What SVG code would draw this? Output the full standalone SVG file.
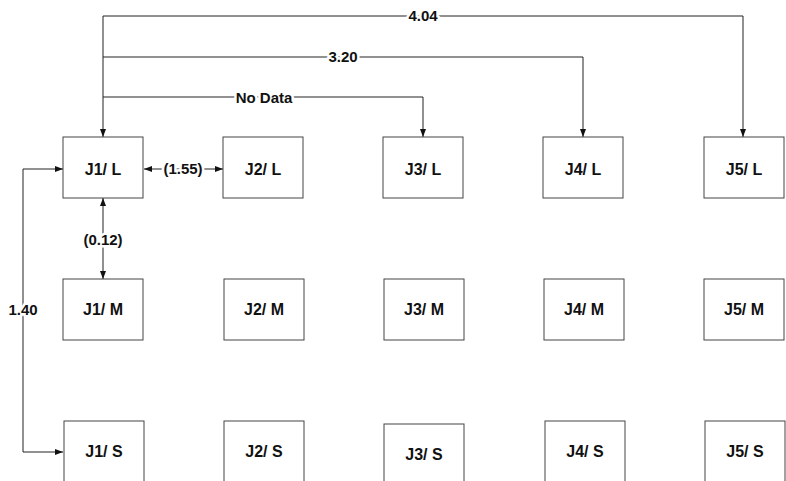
<svg xmlns="http://www.w3.org/2000/svg" width="786" height="481" viewBox="0 0 786 481">
<style>
.box{fill:#fff;stroke:#444;stroke-width:1}
.nt{font-family:"Liberation Sans",Arial,sans-serif;font-weight:bold;font-size:16px;fill:#111;text-anchor:middle}
.ln{fill:none;stroke:#222;stroke-width:1}
.lb{font-family:"Liberation Sans",Arial,sans-serif;font-weight:bold;font-size:15px;fill:#111;text-anchor:middle;stroke:#fff;stroke-width:5;paint-order:stroke;stroke-linejoin:round}
</style>
<defs>
<marker id="ah" viewBox="0 0 8 6" refX="8" refY="3" markerWidth="8" markerHeight="6" markerUnits="userSpaceOnUse" orient="auto-start-reverse">
<path d="M0,0 L8,3 L0,6 z" fill="#111"/>
</marker>
</defs>
<rect width="786" height="481" fill="#fff"/>
<g id="connectors">
<path class="ln" d="M103,137 V16 H743 V137" marker-start="url(#ah)" marker-end="url(#ah)"/>
<path class="ln" d="M103,57 H583 V137" marker-end="url(#ah)"/>
<path class="ln" d="M103,97 H423 V137" marker-end="url(#ah)"/>
<path class="ln" d="M144,169 H223" marker-start="url(#ah)" marker-end="url(#ah)"/>
<path class="ln" d="M103,198 V279" marker-start="url(#ah)" marker-end="url(#ah)"/>
<path class="ln" d="M63,169 H23 V452 H63" marker-start="url(#ah)" marker-end="url(#ah)"/>
<text class="lb" x="423" y="21">4.04</text>
<text class="lb" x="343" y="62">3.20</text>
<text class="lb" x="264" y="103">No Data</text>
<text class="lb" x="183" y="174">(1.55)</text>
<text class="lb" x="103" y="245">(0.12)</text>
<text class="lb" x="23" y="315">1.40</text>
</g>
<g id="J1L"><rect class="box" x="63" y="137" width="80" height="61"/><text class="nt" x="103" y="175">J1/ L</text></g>
<g id="J2L"><rect class="box" x="223" y="137" width="80" height="61"/><text class="nt" x="263" y="175">J2/ L</text></g>
<g id="J3L"><rect class="box" x="383" y="137" width="80" height="61"/><text class="nt" x="423" y="175">J3/ L</text></g>
<g id="J4L"><rect class="box" x="543" y="137" width="80" height="61"/><text class="nt" x="583" y="175">J4/ L</text></g>
<g id="J5L"><rect class="box" x="704" y="137" width="80" height="61"/><text class="nt" x="744" y="175">J5/ L</text></g>
<g id="J1M"><rect class="box" x="63" y="279" width="80" height="61"/><text class="nt" x="103" y="315">J1/ M</text></g>
<g id="J2M"><rect class="box" x="224" y="279" width="80" height="61"/><text class="nt" x="264" y="315">J2/ M</text></g>
<g id="J3M"><rect class="box" x="384" y="279" width="80" height="61"/><text class="nt" x="424" y="315">J3/ M</text></g>
<g id="J4M"><rect class="box" x="544" y="279" width="80" height="61"/><text class="nt" x="584" y="315">J4/ M</text></g>
<g id="J5M"><rect class="box" x="704" y="279" width="80" height="61"/><text class="nt" x="744" y="315">J5/ M</text></g>
<g id="J1S"><rect class="box" x="64" y="421" width="80" height="70"/><text class="nt" x="104" y="457">J1/ S</text></g>
<g id="J2S"><rect class="box" x="224" y="421" width="80" height="70"/><text class="nt" x="264" y="457">J2/ S</text></g>
<g id="J3S"><rect class="box" x="384" y="424" width="80" height="70"/><text class="nt" x="424" y="460">J3/ S</text></g>
<g id="J4S"><rect class="box" x="545" y="421" width="80" height="70"/><text class="nt" x="585" y="457">J4/ S</text></g>
<g id="J5S"><rect class="box" x="705" y="421" width="80" height="70"/><text class="nt" x="745" y="457">J5/ S</text></g>
</svg>
